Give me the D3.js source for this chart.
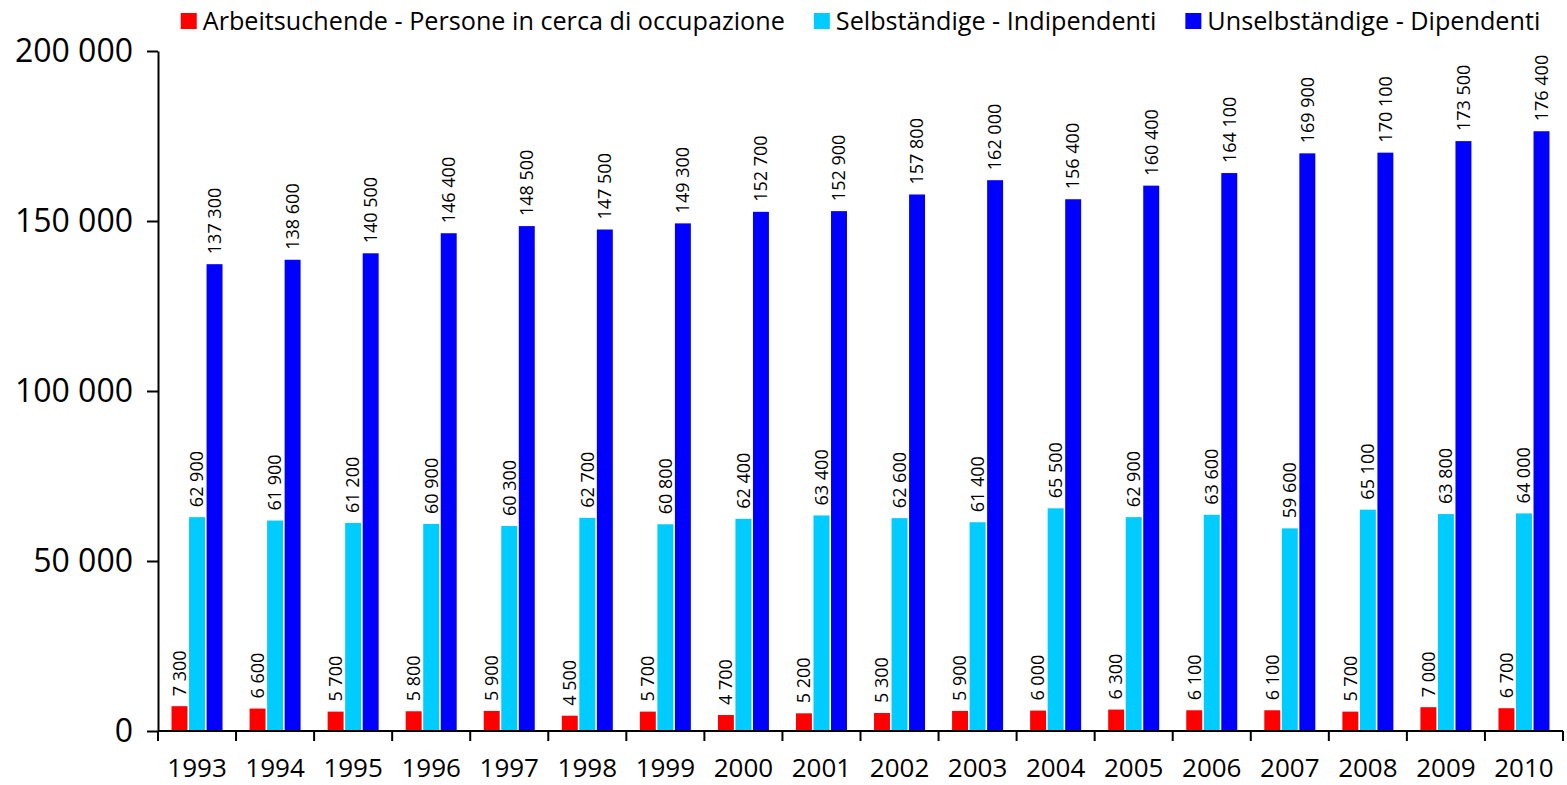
<!DOCTYPE html>
<meta charset="utf-8">
<style>
  body { margin: 0; background: #fff; }
  svg text { font-family: "Open Sans", "Noto Sans", sans-serif; fill: #000; }
  .axis path, .axis line { stroke: #000; stroke-width: 2; fill: none; }
</style>
<svg width="1567" height="785"></svg>
<script src="https://d3js.org/d3.v7.min.js"></script>
<script>

  // Data
  var years = ["1993", "1994", "1995", "1996", "1997", "1998", "1999", "2000", "2001",
    "2002", "2003", "2004", "2005", "2006", "2007", "2008", "2009", "2010"];

  var seriesNames = [
    "Arbeitsuchende - Persone in cerca di occupazione",
    "Selbständige - Indipendenti",
    "Unselbständige - Dipendenti"
  ];

  var arbeitsuchende = [7300, 6600, 5700, 5800, 5900, 4500, 5700, 4700, 5200,
    5300, 5900, 6000, 6300, 6100, 6100, 5700, 7000, 6700];
  var selbstaendige = [62900, 61900, 61200, 60900, 60300, 62700, 60800, 62400, 63400,
    62600, 61400, 65500, 62900, 63600, 59600, 65100, 63800, 64000];
  var unselbstaendige = [137300, 138600, 140500, 146400, 148500, 147500, 149300, 152700, 152900,
    157800, 162000, 156400, 160400, 164100, 169900, 170100, 173500, 176400];

  var yTicks = [0, 50000, 100000, 150000, 200000];

  var colors = ["#ff0000", "#00ccff", "#0000ff"];

  var values = [arbeitsuchende, selbstaendige, unselbstaendige];

  // number format with space as thousands separator
  var locale = d3.formatLocale({ decimal: ",", thousands: " ", grouping: [3], currency: ["", ""] });
  var fmt = locale.format(",d");

  var svg = d3.select("svg");
  var margin = { left: 158, right: 4, top: 51, bottom: 54 };
  var width = +svg.attr("width");
  var height = +svg.attr("height");

  var x0 = d3.scaleBand()
    .domain(years)
    .range([margin.left, width - margin.right]);

  var bw = x0.bandwidth();
  var x1 = d3.scaleBand()
    .domain([0, 1, 2])
    .range([bw / 2 - 25.5, bw / 2 + 25.5])
    .paddingInner(0.09);

  var y = d3.scaleLinear()
    .domain([0, 200000])
    .range([height - margin.bottom, margin.top]);

  // flatten into rows for drawing
  var rows = [];
  years.forEach(function (yr, i) {
    values.forEach(function (s, k) {
      rows.push({ year: yr, k: k, v: s[i] });
    });
  });

  // bars
  svg.append("g")
    .selectAll("rect")
    .data(rows)
    .enter().append("rect")
    .attr("x", d => x0(d.year) + x1(d.k))
    .attr("width", x1.bandwidth())
    .attr("y", d => y(d.v))
    .attr("height", d => y(0) - y(d.v))
    .attr("fill", d => colors[d.k]);

  // value labels (rotated)
  svg.append("g")
    .selectAll("text")
    .data(rows)
    .enter().append("text")
    .attr("transform", function (d) {
      var cx = x0(d.year) + x1(d.k) + x1.bandwidth() / 2;
      return "translate(" + cx + "," + (y(d.v) - 10) + ") rotate(-90)";
    })
    .attr("dy", "0.35em")
    .attr("font-size", 18)
    .attr("text-anchor", "start")
    .text(d => fmt(d.v));

  // y axis
  var yAxis = svg.append("g")
    .attr("class", "axis")
    .attr("transform", "translate(" + margin.left + ",0)")
    .call(d3.axisLeft(y).tickValues(yTicks).tickSize(11).tickSizeOuter(0).tickPadding(14).tickFormat(fmt));
  yAxis.selectAll("text").attr("font-size", 32);

  // x axis: line, ticks at group edges, labels centred
  var xAxis = svg.append("g")
    .attr("class", "axis")
    .attr("transform", "translate(0," + y(0) + ")");

  xAxis.append("path")
    .attr("d", "M" + x0.range()[0] + ",0H" + x0.range()[1]);

  var edges = years.map(d => x0(d)).concat([x0.range()[1]]);
  xAxis.selectAll("line")
    .data(edges)
    .enter().append("line")
    .attr("x1", d => d).attr("x2", d => d)
    .attr("y1", 0).attr("y2", 10);

  xAxis.selectAll("text")
    .data(years)
    .enter().append("text")
    .attr("x", d => x0(d) + bw / 2)
    .attr("y", 46)
    .attr("text-anchor", "middle")
    .attr("font-size", 26)
    .text(d => d);

  // legend, centred over the plot
  var legend = svg.append("g").attr("id", "legend");
  var items = legend.selectAll("g")
    .data(seriesNames)
    .enter().append("g");

  items.append("rect")
    .attr("width", 16).attr("height", 16)
    .attr("y", 13)
    .attr("fill", (d, i) => colors[i]);

  items.append("text")
    .attr("x", 22)
    .attr("y", 30)
    .attr("font-size", 25.2)
    .text(d => d);

  var pos = 0;
  items.each(function () {
    var g = d3.select(this);
    g.attr("transform", "translate(" + pos + ",0)");
    pos += 22 + g.select("text").node().getComputedTextLength() + 29;
  });
  var total = pos - 29;
  var cx = (x0.range()[0] + x0.range()[1]) / 2;
  legend.attr("transform", "translate(" + (cx - total / 2) + ",0)");

</script>
